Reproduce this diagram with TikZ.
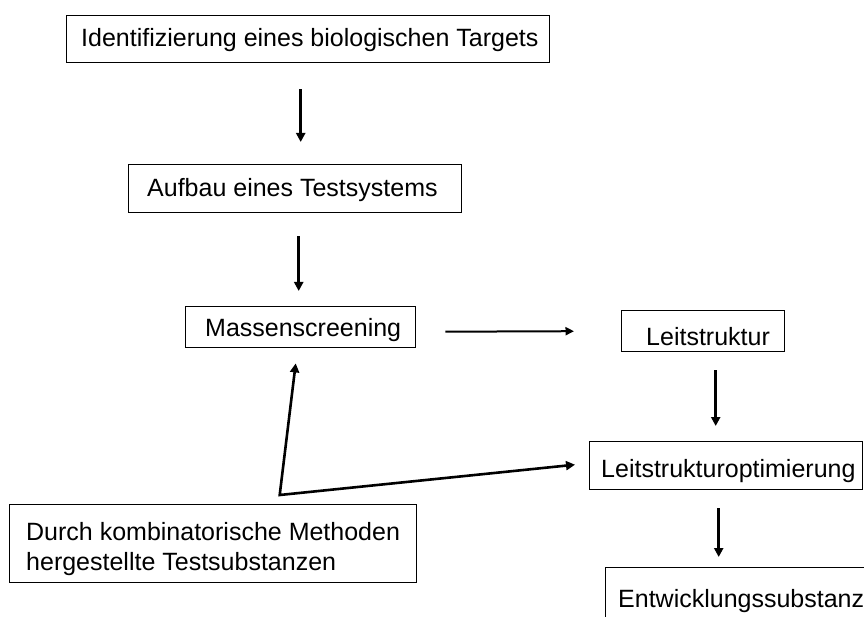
\documentclass[tikz,border=0pt]{standalone}
\usepackage{fontspec}
\setmainfont{Liberation Sans}
\usetikzlibrary{arrows.meta}
\begin{document}
\begin{tikzpicture}[x=1pt,y=-1pt,
  box/.style={draw=black,line width=1.4pt,inner sep=0pt,anchor=north west},
  txt/.style={inner sep=0pt,anchor=base west,font=\fontsize{25}{30}\selectfont},
  thick arr/.style={line width=2.6pt,-{Triangle[length=9pt,width=9pt]}},
  thin arr/.style={line width=2pt,-{Triangle[length=8.5pt,width=8pt]}},
  two arr/.style={line width=2.6pt,{Triangle[length=9pt,width=9pt]}-{Triangle[length=9pt,width=9pt]},line join=miter}]
\clip (0,0) rectangle (864,617);
\fill[white] (0,0) rectangle (864,617);
% boxes
\node[box,minimum width=483pt,minimum height=47pt] (b1) at (66,15) {};
\node[box,minimum width=333pt,minimum height=48pt] (b2) at (128,164) {};
\node[box,minimum width=230pt,minimum height=41pt] (b3) at (185,306) {};
\node[box,minimum width=163pt,minimum height=41pt] (b4) at (621,310) {};
\node[box,minimum width=273pt,minimum height=48pt] (b5) at (589,441) {};
\node[box,minimum width=280pt,minimum height=90pt] (b6) at (605,567) {};
\node[box,minimum width=407pt,minimum height=78pt] (b7) at (9,504) {};
% texts
\node[txt] (t1) at (81,47) {Identifizierung eines biologischen Targets};
\node[txt] (t2) at (147,197) {Aufbau eines Testsystems};
\node[txt] (t3) at (205,336) {Massenscreening};
\node[txt] (t4) at (646,345) {Leitstruktur};
\node[txt] (t5) at (601,477) {Leitstrukturoptimierung};
\node[txt] (t6) at (618,607) {Entwicklungssubstanz};
\node[txt] (t7) at (26,540) {Durch kombinatorische Methoden};
\node[txt] (t8) at (26,570) {hergestellte Testsubstanzen};
% connectors
\draw[thick arr] ([xshift=-7.5pt,yshift=-26pt]b1.south) -- ([xshift=5.5pt,yshift=22pt]b2.north);
\draw[thick arr] ([xshift=3.5pt,yshift=-23pt]b2.south) -- ([xshift=-2pt,yshift=15pt]b3.north);
\draw[thin arr] ([xshift=29pt,yshift=-4.5pt]b3.east) -- ([xshift=-47pt]b4.west);
\draw[thick arr] ([xshift=12.5pt,yshift=-18pt]b4.south) -- ([xshift=-10.5pt,yshift=15pt]b5.north);
\draw[thick arr] ([xshift=-7.5pt,yshift=-18pt]b5.south) -- ([xshift=-27pt,yshift=10pt]b6.north);
\draw[two arr] ([xshift=-5pt,yshift=-15pt]b3.south) -- ([xshift=66.5pt,yshift=9pt]b7.north) -- ([xshift=-14pt,yshift=1pt]b5.west);
\end{tikzpicture}
\end{document}
